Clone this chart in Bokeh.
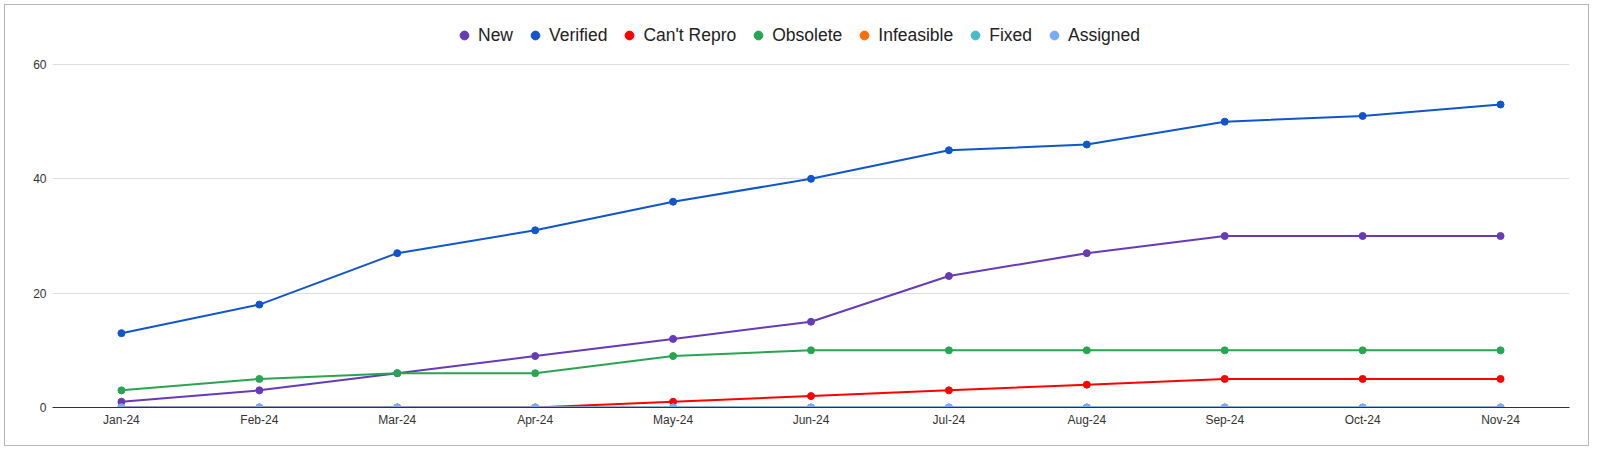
from bokeh.plotting import figure
from bokeh.models import FactorRange, Range1d, FixedTicker, Legend, LegendItem
from bokeh.embed import file_html
from bokeh.resources import INLINE

months = ["Jan-24", "Feb-24", "Mar-24", "Apr-24", "May-24", "Jun-24",
          "Jul-24", "Aug-24", "Sep-24", "Oct-24", "Nov-24"]
new = [1, 3, 6, 9, 12, 15, 23, 27, 30, 30, 30]
verified = [13, 18, 27, 31, 36, 40, 45, 46, 50, 51, 53]
cant_repro = [0, 0, 0, 0, 1, 2, 3, 4, 5, 5, 5]
obsolete = [3, 5, 6, 6, 9, 10, 10, 10, 10, 10, 10]
infeasible = [0, 0, 0, 0, 0, 0, 0, 0, 0, 0, 0]
fixed = [0, 0, 0, 0, 0, 0, 0, 0, 0, 0, 0]
assigned = [0, 0, 0, 0, 0, 0, 0, 0, 0, 0, 0]
y_ticks = [0, 20, 40, 60]

series = [
    ("New", new, "#673ab7"),
    ("Verified", verified, "#1155cc"),
    ("Can't Repro", cant_repro, "#ff0000"),
    ("Obsolete", obsolete, "#28a550"),
    ("Infeasible", infeasible, "#ff6d01"),
    ("Fixed", fixed, "#46bdc6"),
    ("Assigned", assigned, "#7baaf7"),
]

FONT = "Liberation Sans"

# frame spans from near the top so the legend sits inside it;
# the 60 gridline keeps its place (343 px for 60 units, 397 px of frame)
Y_TOP = 60 * 397 / 343

p = figure(x_range=FactorRange(factors=months, range_padding=0),
           y_range=Range1d(0, Y_TOP),
           width=1585, height=442,
           output_backend="svg", toolbar_location=None,
           min_border_left=47, min_border_right=21,
           min_border_top=5, min_border_bottom=40)
p.outline_line_color = None
p.styles = {"border": "1px solid #b7b7b7", "margin": "4px 0 0 4px"}

items = []
for name, vals, col in series:
    p.line(x=months, y=vals, line_color=col, line_width=2)
    sc = p.scatter(x=months, y=vals, size=7, fill_color=col, line_color=col)
    items.append(LegendItem(label=name, renderers=[sc]))

p.xgrid.grid_line_color = None
p.ygrid.grid_line_color = "#dddddd"
p.ygrid.grid_line_width = 1

p.yaxis.ticker = FixedTicker(ticks=y_ticks)
p.yaxis.axis_line_color = None
p.yaxis.major_tick_line_color = None
p.yaxis.minor_tick_line_color = None
p.yaxis.major_tick_out = 0
p.yaxis.major_tick_in = 0
p.yaxis.major_label_standoff = 6
p.yaxis.major_label_text_font = FONT
p.yaxis.major_label_text_font_size = "12px"
p.yaxis.major_label_text_color = "#333333"

p.xaxis.axis_line_color = "#333333"
p.xaxis.axis_line_width = 1
p.xaxis.major_tick_line_color = None
p.xaxis.minor_tick_line_color = None
p.xaxis.major_tick_out = 0
p.xaxis.major_tick_in = 0
p.xaxis.major_label_standoff = 5
p.xaxis.major_label_text_font = FONT
p.xaxis.major_label_text_font_size = "12px"
p.xaxis.major_label_text_color = "#333333"

legend = Legend(items=items, orientation="horizontal", location=(401, 361),
                glyph_width=22, glyph_height=22, label_standoff=3, spacing=11,
                padding=0, margin=0, border_line_color=None,
                background_fill_alpha=0,
                label_text_font=FONT, label_text_font_size="17.5px",
                label_text_color="#222222")
p.add_layout(legend, "center")

open("out.html", "w").write(file_html(p, INLINE))
